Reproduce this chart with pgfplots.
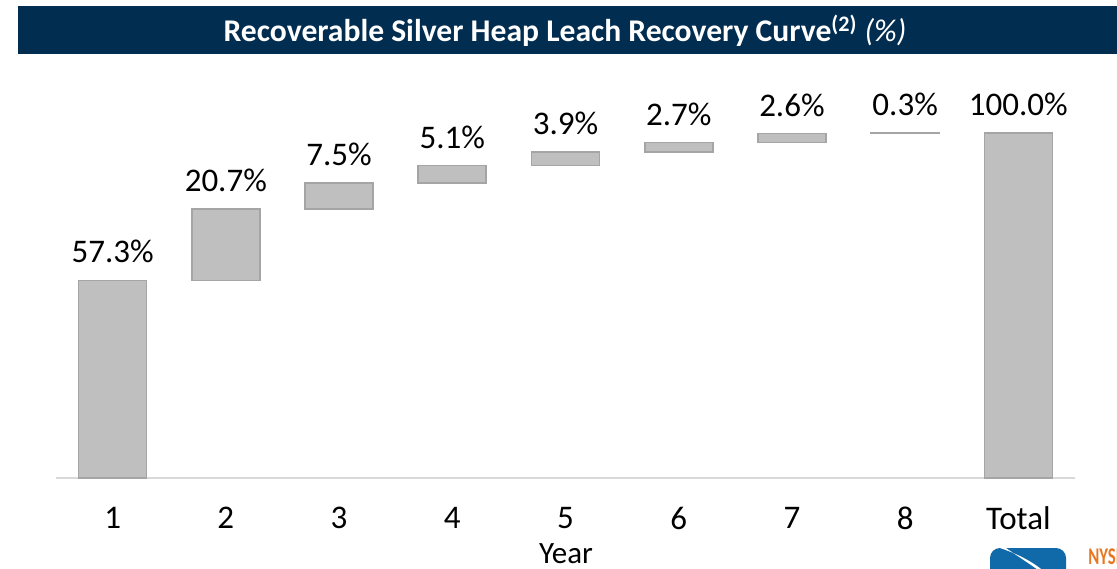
\documentclass[border=0pt]{standalone}
\usepackage{pgfplots}
\pgfplotsset{compat=1.18}
\usepackage{fontspec}
\setmainfont{Carlito}
\definecolor{navy}{RGB}{0,45,80}
\definecolor{barfill}{RGB}{191,191,191}
\definecolor{barline}{RGB}{165,165,165}
\definecolor{baseln}{RGB}{217,217,217}
\definecolor{logoblue}{RGB}{16,105,168}
\definecolor{logoorange}{RGB}{232,119,34}

% waterfall: invisible base + visible step, label in meta column
\pgfplotstableread{
x base step cap lab
0 0    57.3  0.001 57.3
1 57.3 20.7  0.001 20.7
2 78.0 7.5   0.001 7.5
3 85.5 5.1   0.001 5.1
4 90.6 3.9   0.001 3.9
5 94.5 2.7   0.001 2.7
6 97.2 2.6   0.001 2.6
7 99.8 0.3   0.001 0.3
8 0    100.0 0.001 100.0
}\recovery

\begin{document}
\begin{tikzpicture}
\useasboundingbox (0,0) rectangle (558.5pt,284pt);
% title bar
\fill[navy] (9pt,281pt) rectangle (558.5pt,257pt);
\node[text=white,font=\fontsize{15.8}{18}\selectfont] at (282.5pt,268.5pt)
  {\textbf{Recoverable Silver Heap Leach Recovery Curve\textsuperscript{(2)}} \textit{(\%)}};
\begin{axis}[
    at={(28pt,45pt)}, anchor=south west,
    width=509.5pt, height=207pt, scale only axis,
    ybar stacked, bar width=34pt,
    xmin=-0.5, xmax=8.5, ymin=0, ymax=120,
    xtick=data, xticklabels={1,2,3,4,5,6,7,8,Total},
    ytick=\empty,
    axis line style={draw=none},
    axis x line*=bottom,
    x axis line style={draw=baseln, line width=1.2pt},
    major tick length=0pt,
    tick label style={font=\fontsize{16.5}{19}\selectfont},
    xticklabel style={yshift=-11pt},
    /pgf/number format/assume math mode=true,
    clip=false,
]
\addplot[draw=none, fill=none] table[x=x, y=base] {\recovery};
\addplot[fill=barfill, draw=barline, line width=0.8pt] table[x=x, y=step] {\recovery};
% near-zero segment on top carries the labels
\addplot[draw=none, fill=none,
    nodes near coords={\pgfmathprintnumber[fixed,fixed zerofill,precision=1]{\pgfplotspointmeta}\%},
    point meta=explicit,
    every node near coord/.append style={font=\fontsize{16.5}{19}\selectfont, anchor=south, yshift=5pt, text=black}]
    table[x=x, y=cap, meta=lab] {\recovery};
\end{axis}
\node[font=\fontsize{15.5}{18}\selectfont] at (283pt,7pt) {Year};
% partial logo at lower right
\begin{scope}
\clip (0,0) rectangle (558.5pt,284pt);
\fill[logoblue, rounded corners=5pt] (495pt,10pt) rectangle (533pt,-15pt);
\fill[white] (500pt,10pt) .. controls (512pt,6pt) and (522pt,0pt) .. (528pt,-8pt)
  .. controls (520pt,-1pt) and (510pt,5pt) .. (503pt,10pt) -- cycle;
\node[anchor=north west, inner sep=0pt, text=logoorange, font=\bfseries\fontsize{12}{12}\selectfont, xscale=0.7] at (544pt,10pt) {NYSE};
\end{scope}
\end{tikzpicture}
\end{document}
